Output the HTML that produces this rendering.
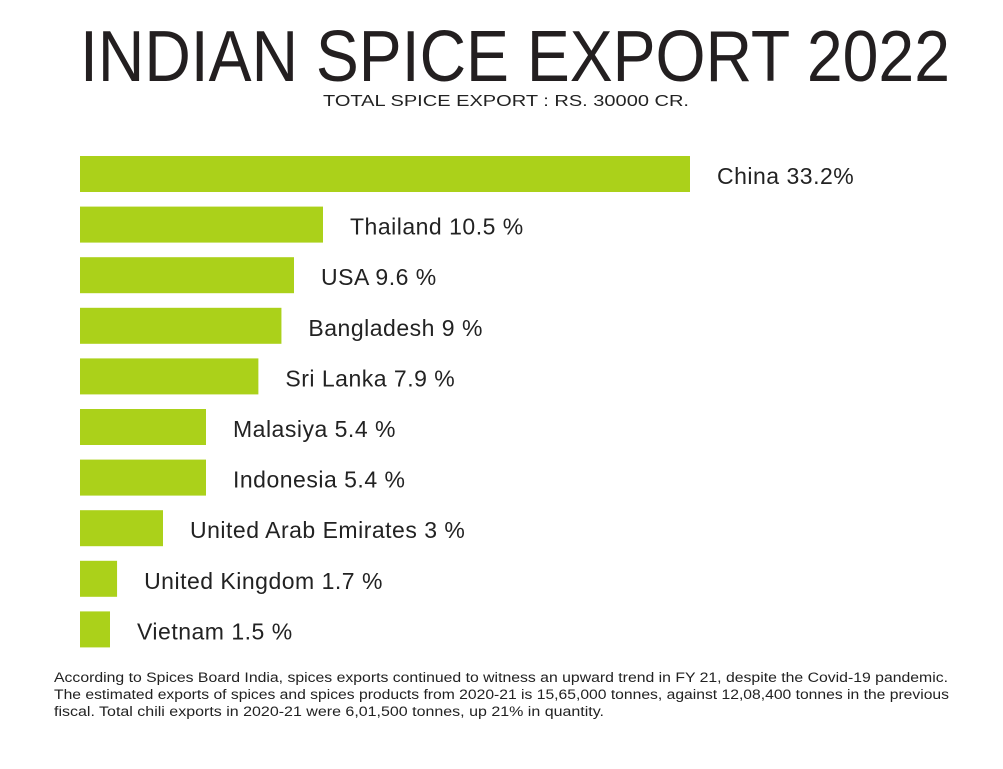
<!DOCTYPE html>
<html><head><meta charset="utf-8"><style>
body{margin:0;width:1003px;height:769px;background:#fff;font-family:"Liberation Sans",sans-serif;color:#222;position:relative;overflow:hidden}
svg{position:absolute;left:0;top:0}
</style></head><body>
<svg id="chart" width="1003" height="769" font-family="Liberation Sans, sans-serif">
<text x="80" y="81" font-size="72" fill="#231f20" textLength="870" lengthAdjust="spacingAndGlyphs">INDIAN SPICE EXPORT 2022</text>
<text x="323" y="106" font-size="16" fill="#222" textLength="366" lengthAdjust="spacingAndGlyphs">TOTAL SPICE EXPORT : RS. 30000 CR.</text>
<g font-size="13.5" fill="#222">
<text x="54" y="682" textLength="894" lengthAdjust="spacingAndGlyphs">According to Spices Board India, spices exports continued to witness an upward trend in FY 21, despite the Covid-19 pandemic.</text>
<text x="54" y="699" textLength="895" lengthAdjust="spacingAndGlyphs">The estimated exports of spices and spices products from 2020-21 is 15,65,000 tonnes, against 12,08,400 tonnes in the previous</text>
<text x="54" y="716" textLength="550" lengthAdjust="spacingAndGlyphs">fiscal. Total chili exports in 2020-21 were 6,01,500 tonnes, up 21% in quantity.</text>
</g>
</svg>
<script>
const categories=["China","Thailand","USA","Bangladesh","Sri Lanka","Malasiya","Indonesia","United Arab Emirates","United Kingdom","Vietnam"];
const values=[33.2,10.5,9.6,9,7.9,5.4,5.4,3,1.7,1.5];
const valueLabels=["33.2%","10.5 %","9.6 %","9 %","7.9 %","5.4 %","5.4 %","3 %","1.7 %","1.5 %"];
const NS="http://www.w3.org/2000/svg";
const svg=document.getElementById('chart');
const x0=80;
// piecewise-linear (non-uniform) axis scale matching the infographic
const knotsD=[0,1.5,3,5.4,9.6,10.5,33.2,100];
const knotsR=[0,30,83,126,214,243,610,1700];
function xScale(v){
  for(let k=1;k<knotsD.length;k++){
    if(v<=knotsD[k]){const t=(v-knotsD[k-1])/(knotsD[k]-knotsD[k-1]);return knotsR[k-1]+t*(knotsR[k]-knotsR[k-1]);}
  }
  return knotsR[knotsR.length-1];
}
function yScale(i){return 156+i*50.6;}
const bh=36;
categories.forEach((c,i)=>{
  const r=document.createElementNS(NS,'rect');
  r.setAttribute('x',x0);r.setAttribute('y',yScale(i));
  r.setAttribute('width',xScale(values[i]));r.setAttribute('height',bh);
  r.setAttribute('fill','#abd11a');
  
  
  svg.appendChild(r);
  const t=document.createElementNS(NS,'text');
  t.setAttribute('x',x0+xScale(values[i])+27);
  t.setAttribute('y',yScale(i)+bh/2+10);
  t.setAttribute('font-size','23');
  t.setAttribute('letter-spacing','0.5');
  t.setAttribute('fill','#222');
  t.textContent=c+' '+valueLabels[i];
  
  
  svg.appendChild(t);
});
</script>
</body></html>
